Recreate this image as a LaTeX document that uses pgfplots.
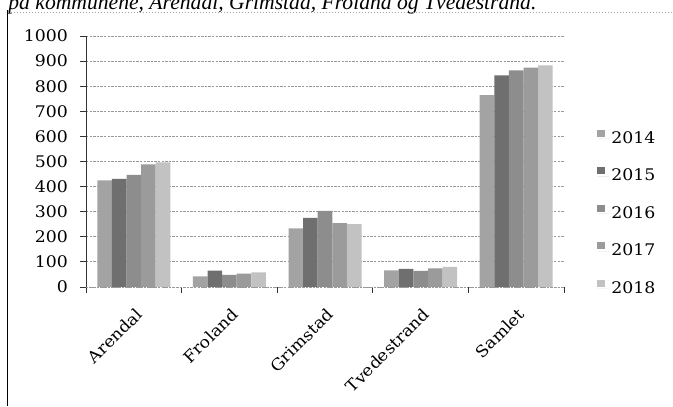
\documentclass[border=0pt]{standalone}
\usepackage{pgfplots}
\pgfplotsset{compat=1.18}
\usepackage{fontspec}
\setmainfont{DejaVu Serif}[FakeStretch=1.08]
\newfontfamily\capfont{Liberation Serif}
\definecolor{cA}{HTML}{A3A3A3}
\definecolor{cB}{HTML}{6F6F6F}
\definecolor{cC}{HTML}{8D8D8D}
\definecolor{cD}{HTML}{9B9B9B}
\definecolor{cE}{HTML}{C2C2C2}
\begin{document}
\begin{tikzpicture}
\useasboundingbox (0,0) rectangle (336.5pt,203pt);
\fill[white] (0,0) rectangle (336.5pt,203pt);
\node[anchor=base west, inner sep=0pt] at (4pt,198pt) {\resizebox{264pt}{!}{\capfont\itshape på kommunene, Arendal, Grimstad, Froland og Tvedestrand.}};
\draw[gray!70, densely dotted, line width=0.5pt] (3.75pt,196.6pt) -- (336.5pt,196.6pt);
\draw[black, line width=0.8pt] (3.75pt,0pt) -- (3.75pt,198pt);
\begin{axis}[
  at={(43pt,59.5pt)}, anchor=south west,
  scale only axis, width=239pt, height=125.5pt,
  ybar=0pt, bar width=7.3pt,
  xmin=-0.5, xmax=4.5, ymin=0, ymax=1000,
  ytick={0,100,...,1000},
  xtick={-0.5,0.5,...,4.5},
  x tick label as interval,
  xticklabels={Arendal,Froland,Grimstad,Tvedestrand,Samlet},
  axis x line*=bottom, axis y line*=left,
  x axis line style={-, gray!80, densely dotted},
  y axis line style={-, black!80},
  tick align=outside,
  major tick length=3pt,
  tick style={black!80, line width=0.4pt},
  ymajorgrids,
  grid style={gray!80, dash pattern=on 1.2pt off 0.6pt, line width=0.4pt},
  tick label style={font=\fontsize{8}{9}\selectfont},
  yticklabel style={xshift=-2.5pt, /pgf/number format/1000 sep={}},
  xticklabel style={rotate=45, anchor=north east, inner sep=1pt, xshift=-3.5pt, yshift=-4.2pt},
  /pgf/number format/assume math mode=true,
  legend style={at={(axis description cs:1.069,0.63)}, anchor=north west, draw=none, fill=none,
    inner sep=0pt, row sep=9.3pt, font=\fontsize{8}{9}\selectfont,
    nodes={inner sep=1pt, anchor=west}},
  legend cell align=left,
  legend image code/.code={\path (0pt,0pt) -- (6pt,0pt); \fill[#1] (0pt,0.9pt) rectangle (3.6pt,4.5pt);},
]
\addplot[fill=cA, draw=none] coordinates {(0,425) (1,42) (2,234) (3,66) (4,764)};
\addplot[fill=cB, draw=none] coordinates {(0,431) (1,65) (2,275) (3,72) (4,843)};
\addplot[fill=cC, draw=none] coordinates {(0,447) (1,48) (2,303) (3,64) (4,863)};
\addplot[fill=cD, draw=none] coordinates {(0,489) (1,53) (2,254) (3,74) (4,874)};
\addplot[fill=cE, draw=none] coordinates {(0,497) (1,58) (2,250) (3,80) (4,883)};
\legend{2014,2015,2016,2017,2018}
\end{axis}
\end{tikzpicture}
\end{document}
